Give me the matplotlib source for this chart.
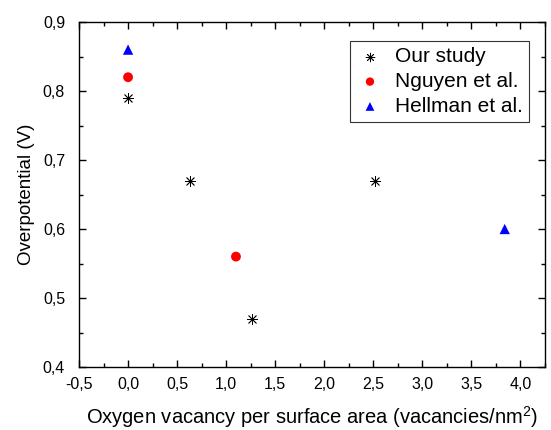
import matplotlib
matplotlib.use("Agg")
import matplotlib.pyplot as plt
from matplotlib.ticker import MultipleLocator, FuncFormatter

plt.rcParams['font.family'] = ['Liberation Sans', 'DejaVu Sans']
plt.rcParams['mathtext.fontset'] = 'custom'
plt.rcParams['mathtext.rm'] = 'Liberation Sans'

our_x = [0.0, 0.63, 1.26, 2.52]
our_y = [0.79, 0.67, 0.47, 0.67]
nguyen_x = [0.0, 1.10]
nguyen_y = [0.82, 0.56]
hellman_x = [0.0, 3.84]
hellman_y = [0.86, 0.60]

fig = plt.figure(figsize=(5.51, 4.30), dpi=100)
ax = fig.add_axes([0.1434, 0.1465, 0.989 - 0.1434, 0.9488 - 0.1465])

ax.scatter(our_x, our_y, marker=(8, 2, 0), s=55, c='black', linewidths=0.6, label='Our study', zorder=3)
ax.scatter(nguyen_x, nguyen_y, marker='o', s=50, c='#ff0000', edgecolors='none', label='Nguyen et al.', zorder=3)
ax.scatter(hellman_x, hellman_y, marker='^', s=55, c='#0000ff', edgecolors='none', label='Hellman et al.', zorder=3)

ax.set_xlim(-0.5, 4.25)
ax.set_ylim(0.4, 0.9)
ax.xaxis.set_major_locator(MultipleLocator(0.5))
ax.xaxis.set_minor_locator(MultipleLocator(0.25))
ax.yaxis.set_major_locator(MultipleLocator(0.1))
ax.yaxis.set_minor_locator(MultipleLocator(0.05))
ax.xaxis.set_major_formatter(FuncFormatter(lambda v, p: f"{v:.1f}".replace('.', ',')))
ax.yaxis.set_major_formatter(FuncFormatter(lambda v, p: f"{v:.1f}".replace('.', ',')))
ax.tick_params(which='both', direction='in', top=True, right=True, labelsize=11.5, width=1)
ax.tick_params(axis='x', which='major', length=5, pad=7)
ax.tick_params(axis='y', which='major', length=5, pad=10)
ax.tick_params(which='minor', length=3)
for s in ax.spines.values():
    s.set_linewidth(1)

ax.set_xlabel('Oxygen vacancy per surface area (vacancies/nm$^{\\mathregular{2}}$)', fontsize=14.5, labelpad=9)
ax.set_ylabel('Overpotential (V)', fontsize=13.5, labelpad=6)

leg = ax.legend(loc='upper right', bbox_to_anchor=(0.966, 0.945), borderaxespad=0,
                fontsize=15, frameon=True, fancybox=False, edgecolor='black',
                handletextpad=0.55, labelspacing=0.28, borderpad=0.3, handlelength=1.3,
                markerscale=0.85)
leg.get_frame().set_linewidth(0.8)

fig.savefig('out.png', dpi=100)
